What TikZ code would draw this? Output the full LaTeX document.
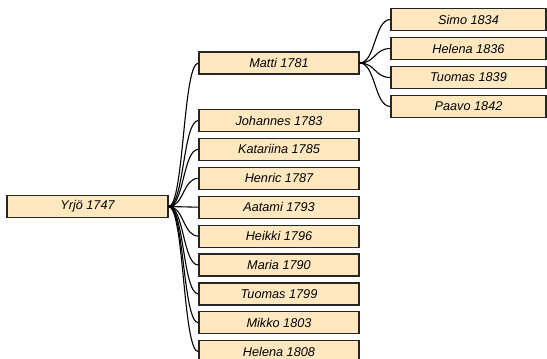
\documentclass[tikz,border=0pt]{standalone}
\usepackage{fontspec}
\setmainfont{Liberation Sans}
\begin{document}
\begin{tikzpicture}[x=1pt,y=-1pt,
  person/.style={draw=black!85,line width=1.2pt,fill=boxfill,minimum height=22pt,inner sep=0pt,
     font=\fontsize{12.7}{14}\selectfont\itshape},
  gen1/.style={person,minimum width=161pt},
  gen2/.style={person,minimum width=160pt},
  gen3/.style={person,minimum width=155pt},
  link/.style={line width=1.1pt,black}]
\definecolor{boxfill}{HTML}{FFE8BF}
\useasboundingbox (0,0) rectangle (547,359);
\node[gen1] (yrjo) at (87.5,206.5) {Yrjö 1747};
\node[gen2] (matti) at (279,63) {Matti 1781};
\foreach \n/\t [count=\i from 0] in {johannes/Johannes 1783,katariina/Katariina 1785,henric/Henric 1787,aatami/Aatami 1793,heikki/Heikki 1796,maria/Maria 1790,tuomas/Tuomas 1799,mikko/Mikko 1803,helena/Helena 1808}{
  \node[gen2] (\n) at (279,{120.5+28.9*\i}) {\t};
}
\foreach \n/\t [count=\i from 0] in {simo/Simo 1834,helenab/Helena 1836,tuomasb/Tuomas 1839,paavo/Paavo 1842}{
  \node[gen3] (\n) at (468.5,{19.5+29*\i}) {\t};
}
\foreach \c in {matti,johannes,katariina,henric,aatami,heikki,maria,tuomas,mikko,helena}{
  \draw[link] (yrjo.east) .. controls ([xshift=15.5pt]yrjo.east) and ([xshift=-15.5pt]\c.west) .. (\c.west);
}
\foreach \c in {simo,helenab,tuomasb,paavo}{
  \draw[link] (matti.east) .. controls ([xshift=16pt]matti.east) and ([xshift=-16pt]\c.west) .. (\c.west);
}
\end{tikzpicture}
\end{document}
